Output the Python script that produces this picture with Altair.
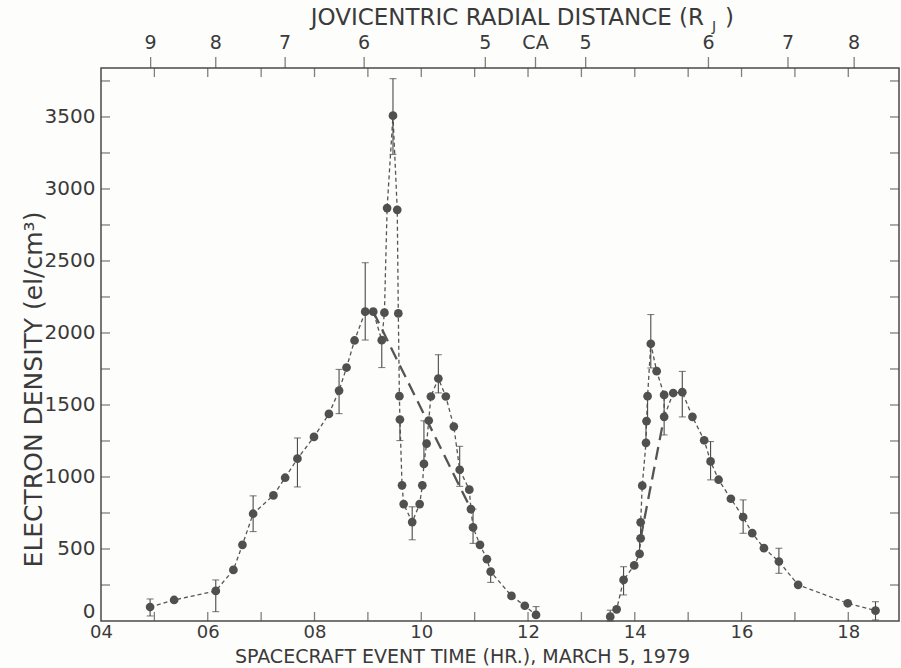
import altair as alt
import pandas as pd

# ---------------- data ----------------
# inbound pass (segment 1)
hours_in = [4.92, 5.37, 6.15, 6.48, 6.65, 6.85, 7.23, 7.45, 7.68, 7.99, 8.27, 8.46, 8.60, 8.75,
            8.95, 9.10, 9.26, 9.31, 9.36, 9.47, 9.55, 9.57, 9.59, 9.60, 9.64, 9.67, 9.83, 9.97,
            10.02, 10.05, 10.10, 10.14, 10.18, 10.32, 10.46, 10.61, 10.72, 10.90, 10.93, 10.97,
            11.10, 11.23, 11.30, 11.69, 11.94, 12.15]
dens_in = [97, 146, 209, 355, 529, 745, 872, 995, 1127, 1278, 1438, 1600, 1760, 1948,
           2148, 2148, 1950, 2141, 2867, 3509, 2855, 2136, 1561, 1399, 942, 812, 687, 812,
           942, 1091, 1232, 1392, 1559, 1684, 1559, 1350, 1050, 912, 777, 650,
           529, 429, 343, 174, 106, 42]
lo_in = [35, None, 65, None, None, 621, None, None, 931, None, None, 1440, None, None,
         1951, None, 1760, None, None, 3240, None, None, None, 1253, None, None, 564, None,
         None, None, None, None, None, 1584, None, None, 935, None, None, 539,
         None, None, 268, None, None, None]
hi_in = [153, None, 285, None, None, 869, None, None, 1271, None, None, 1747, None, None,
         2488, None, None, None, None, 3766, None, None, None, None, None, None, 793, None,
         None, 1390, None, None, None, 1849, None, None, 1213, None, None, 777,
         None, None, None, None, None, 100]

# outbound pass (segment 2)
hours_out = [13.54, 13.66, 13.79, 13.99, 14.09, 14.11, 14.11, 14.14, 14.21, 14.22, 14.24, 14.30,
             14.41, 14.55, 14.55, 14.72, 14.89, 15.08, 15.30, 15.42, 15.57, 15.80, 16.03, 16.20,
             16.42, 16.70, 17.06, 17.99, 18.51]
dens_out = [30, 81, 285, 386, 466, 574, 685, 940, 1237, 1388, 1561, 1925,
            1735, 1570, 1418, 1583, 1589, 1418, 1255, 1108, 981, 849, 722, 610,
            506, 413, 251, 123, 72]
lo_out = [0, None, 181, None, None, None, 576, None, None, None, 1387, 1757,
          None, None, 1292, None, 1417, None, None, 980, None, None, 609, None,
          None, 331, None, None, 7]
hi_out = [75, None, 377, None, 576, None, None, None, 1387, None, None, 2128,
          None, None, 1561, None, 1733, None, None, 1246, None, None, 841, None,
          None, 505, None, None, 134]

# long-dashed curves
model_h = [9.10, 10.93, 14.11, 14.55]
model_v = [2148, 777, 574, 1418]
model_seg = ["a", "a", "b", "b"]

# tick values and labels
hour_ticks = list(range(5, 19))
hour_labels = list(range(4, 19, 2))
dens_ticks = list(range(250, 3840, 250))
dens_labels = list(range(0, 3501, 500))
rj_pos = [4.93, 6.15, 7.45, 8.93, 11.20, 12.14, 13.08, 15.38, 16.87, 18.11]
rj_lab = ["9", "8", "7", "6", "5", "CA", "5", "6", "7", "8"]

# ---------------- build tables ----------------
n_in, n_out = len(hours_in), len(hours_out)
df = pd.DataFrame({
    "h": hours_in + hours_out,
    "v": dens_in + dens_out,
    "lo": lo_in + lo_out,
    "hi": hi_in + hi_out,
    "seg": ["in"] * n_in + ["out"] * n_out,
    "order": list(range(n_in + n_out)),
})
has_err = df["lo"].notna() | df["hi"].notna()
err = df[has_err].copy()
err["lo"] = err["lo"].fillna(err["v"]).astype(float)
err["hi"] = err["hi"].fillna(err["v"]).astype(float)
model = pd.DataFrame({"h": model_h, "v": model_v, "seg": model_seg})

# ---------------- style ----------------
W, H = 798, 553
FONT = "DejaVu Sans"
TXT = "#3a3a3a"
AX = "#4a4a4a"
PT = "#505050"
LN = "#555555"

xs = alt.Scale(domain=[4, 18.95], nice=False, zero=False)
ys = alt.Scale(domain=[0, 3840], nice=False, zero=False)

x_axis = alt.Axis(values=hour_labels, format="02d", ticks=False, domain=False, grid=False,
                  labelFontSize=18, labelPadding=2, labelFlush=False, labelColor=TXT,
                  labelFont=FONT, title="SPACECRAFT EVENT TIME (HR.), MARCH 5, 1979",
                  titleFont=FONT, titleFontSize=19, titleFontWeight="normal", titleColor=TXT,
                  titleX=361, titleY=35, titleAlign="center", titleBaseline="middle")
y_axis = alt.Axis(values=dens_labels, format="d", ticks=False, domain=False, grid=False,
                  labelFontSize=20, labelPadding=6, labelFlush=False, labelColor=TXT,
                  labelFont=FONT, labelOverlap=False,
                  labelBaseline={"condition": {"test": "datum.value === 0", "value": "bottom"},
                                 "value": "middle"},
                  title="ELECTRON DENSITY (el/cm³)", titleFont=FONT, titleFontSize=25,
                  titleFontWeight="normal", titleColor=TXT, titleAngle=-90,
                  titleX=-68, titleY=321, titleAlign="center", titleBaseline="middle")

X = alt.X("h:Q", scale=xs, axis=x_axis)
Y = alt.Y("v:Q", scale=ys, axis=y_axis)

line = alt.Chart(df).mark_line(strokeDash=[4, 3], strokeWidth=1.3, color=LN).encode(
    x=X, y=Y, detail="seg:N", order="order:Q")
long_line = alt.Chart(model).mark_line(strokeDash=[13, 7], strokeWidth=2.3, color=LN).encode(
    x=X, y=Y, detail="seg:N")
err_rule = alt.Chart(err).mark_rule(color=AX, strokeWidth=1.1).encode(
    x=X, y=alt.Y("lo:Q", scale=ys, axis=y_axis), y2="hi:Q")
cap_hi = alt.Chart(err).mark_tick(orient="horizontal", size=7, thickness=1.1, color=AX).encode(
    x=X, y=alt.Y("hi:Q", scale=ys, axis=y_axis))
cap_lo = alt.Chart(err).mark_tick(orient="horizontal", size=7, thickness=1.1, color=AX).encode(
    x=X, y=alt.Y("lo:Q", scale=ys, axis=y_axis))
points = alt.Chart(df).mark_circle(size=76, opacity=1, color=PT).encode(x=X, y=Y)

# inward ticks on all four sides
hdf = pd.DataFrame({"h": hour_ticks})
vdf = pd.DataFrame({"v": dens_ticks})
tick_bottom = alt.Chart(hdf).mark_tick(orient="vertical", size=9, thickness=1.3, color=AX,
                                       yOffset=-4.5).encode(x=X, y=alt.value(H))
tick_top = alt.Chart(hdf).mark_tick(orient="vertical", size=9, thickness=1.3, color=AX,
                                    yOffset=4.5).encode(x=X, y=alt.value(0))
tick_left = alt.Chart(vdf).mark_tick(orient="horizontal", size=9, thickness=1.3, color=AX,
                                     xOffset=4.5).encode(y=Y, x=alt.value(0))
tick_right = alt.Chart(vdf).mark_tick(orient="horizontal", size=9, thickness=1.3, color=AX,
                                      xOffset=-4.5).encode(y=Y, x=alt.value(W))

# top axis: jovicentric radial distance
rjdf = pd.DataFrame({"h": rj_pos, "lab": rj_lab})
tick_rj = alt.Chart(rjdf).mark_tick(orient="vertical", size=11, thickness=1.3, color=AX,
                                    yOffset=-5.5).encode(x=X, y=alt.value(0))
lab_rj = alt.Chart(rjdf).mark_text(font=FONT, fontSize=19, color=TXT, align="center",
                                   baseline="middle").encode(x=X, y=alt.value(-25), text="lab:N")

t1 = alt.Chart(pd.DataFrame({"t": ["JOVICENTRIC RADIAL DISTANCE (R"]})).mark_text(
    font=FONT, fontSize=23, color=TXT, align="right", baseline="middle").encode(
    x=alt.value(603), y=alt.value(-50), text="t:N")
t2 = alt.Chart(pd.DataFrame({"t": ["J"]})).mark_text(
    font=FONT, fontSize=14, color=TXT, align="left", baseline="middle").encode(
    x=alt.value(611), y=alt.value(-41), text="t:N")
t3 = alt.Chart(pd.DataFrame({"t": [")"]})).mark_text(
    font=FONT, fontSize=23, color=TXT, align="left", baseline="middle").encode(
    x=alt.value(624), y=alt.value(-50), text="t:N")

chart = alt.layer(
    line, long_line, err_rule, cap_hi, cap_lo, points,
    tick_bottom, tick_top, tick_left, tick_right, tick_rj, lab_rj, t1, t2, t3
).properties(
    width=W, height=H,
    autosize=alt.AutoSizeParams(type="none"),
    padding={"left": 101, "top": 68, "right": 2, "bottom": 47},
    background="#fdfdfb",
).configure_view(stroke=AX, strokeWidth=1.5)

chart.save("out.html", embed_options={"renderer": "svg", "actions": False})
